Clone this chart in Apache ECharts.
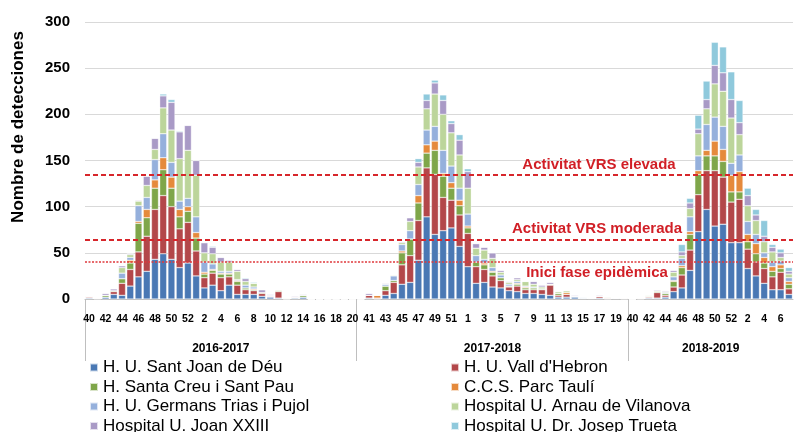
<!DOCTYPE html>
<html lang="ca">
<head>
    <meta charset="UTF-8">
    <title>Deteccions VRS</title>
    <script src="https://cdn.jsdelivr.net/npm/echarts@6/dist/echarts.min.js"></script>
    <style>
        html, body { margin: 0; padding: 0; background: #fff; }
        .box { width: 794px; height: 432px; }
    </style>
</head>
<body>
<div id="show_echarts" class="box"></div>

<script>
    // temporades i setmanes
    var seasons = ['2016-2017', '2017-2018', '2018-2019'];
    var weeks1617 = [40,41,42,43,44,45,46,47,48,49,50,51,52,1,2,3,4,5,6,7,8,9,10,11,12,13,14,15,16,17,18,19,20];
    var weeks1718 = [40,41,42,43,44,45,46,47,48,49,50,51,52,1,2,3,4,5,6,7,8,9,10,11,12,13,14,15,16,17,18,19,20];
    var weeks1819 = [40,41,42,43,44,45,46,47,48,49,50,51,52,1,2,3,4,5,6,7];

    var hospitals = ['H. U. Sant Joan de Déu', "H. U. Vall d'Hebron", 'H. Santa Creu i Sant Pau', 'C.C.S. Parc Taulí',
        'H. U. Germans Trias i Pujol', 'Hospital U. Arnau de Vilanova', 'Hospital U. Joan XXIII', 'Hospital U. Dr. Josep Trueta'];
    var colors = ['#4a78b4', '#b3474a', '#7fa64a', '#e58a3c', '#95b0dc', '#bcd59b', '#a99ac6', '#8fc9dc'];

    // deteccions per setmana (temporada 16-17 | 17-18 | 18-19)
    var santJoan = [1,0,2,5,4,14,24,30,43,49,43,34,39,25,12,15,9,15,5,5,5,3,2,1,0,1,2,0,0,0,0,0,0,
        0,1,0,4,6,16,18,42,89,70,74,77,57,35,17,18,13,12,9,8,6,6,5,4,2,2,2,1,1,1,0,1,0,
        0,0,1,1,2,8,12,31,73,97,79,81,61,61,33,25,17,10,10,5];
    var vallHebron = [1,1,0,3,13,18,27,38,54,63,57,42,44,27,11,13,14,9,10,5,4,3,1,7,0,1,0,0,0,0,0,0,0,
        0,3,1,5,12,21,29,43,53,65,36,30,34,36,18,14,12,8,4,6,4,4,5,11,2,3,1,0,0,2,1,0,1,
        0,1,1,6,2,5,14,22,40,42,60,51,44,47,21,15,16,14,19,6];
    var santPau = [1,0,2,1,5,7,31,20,23,28,20,13,12,14,4,3,4,3,4,2,1,1,0,1,1,0,2,0,0,0,0,0,0,
        0,0,0,5,2,13,18,19,16,26,23,13,10,6,5,5,4,3,1,2,2,2,1,1,2,0,0,0,0,0,0,0,0,
        0,0,1,1,2,6,8,17,22,16,16,17,11,8,8,9,6,6,4,5];
    var parcTauli = [0,0,0,0,0,3,2,9,9,13,12,8,5,6,2,1,1,1,1,0,1,0,0,0,0,0,0,0,0,0,0,0,0,
        0,0,3,0,0,2,0,8,9,10,3,6,6,2,0,2,1,0,0,1,1,0,0,0,0,2,0,0,0,0,0,0,0,
        0,0,0,0,0,1,2,3,4,6,16,13,18,22,8,11,6,5,4,3];
    var triasPujol = [0,0,0,0,6,3,17,13,22,26,16,9,9,17,11,6,2,2,1,3,2,0,1,0,0,0,0,0,0,0,0,0,0,
        0,0,0,2,5,7,9,12,16,16,25,18,13,13,7,4,4,3,2,2,1,1,0,0,0,0,0,1,0,0,0,0,0,
        0,0,0,0,1,4,8,16,16,28,26,25,13,18,14,10,5,5,4,4];
    var arnau = [0,0,0,0,6,3,5,13,11,28,35,46,52,45,10,11,10,10,9,4,4,0,0,1,0,0,0,0,0,0,0,0,0,
        0,0,0,0,1,2,10,19,23,35,39,36,36,28,8,10,10,3,2,2,5,3,2,0,2,2,0,0,0,0,1,0,0,
        0,0,1,1,1,5,3,9,24,17,36,38,49,22,17,15,12,11,4,4];
    var joanXXIII = [0,0,2,2,2,1,1,10,12,13,30,29,27,16,11,7,5,2,2,3,0,3,1,0,0,1,1,0,0,0,0,0,0,
        0,2,0,1,0,1,4,5,9,12,15,10,16,18,5,3,6,2,1,2,0,3,2,2,0,0,1,0,0,1,0,0,0,
        0,0,0,1,1,2,4,6,5,10,20,20,20,13,11,6,6,5,5,3];
    var trueta = [0,0,0,0,0,0,0,0,0,2,3,1,0,0,0,1,0,0,0,1,1,0,0,0,0,0,0,0,0,0,0,0,0,
        0,0,0,0,0,0,0,4,7,3,6,3,6,3,0,0,0,0,0,0,0,0,0,0,0,0,0,0,0,0,0,0,0,
        0,0,0,0,0,0,8,5,15,20,25,28,30,24,8,6,17,3,4,4];

    // llindars
    var llindars = [
        { name: 'Activitat VRS elevada', value: 135 },
        { name: 'Activitat VRS moderada', value: 64 },
        { name: 'Inici fase epidèmica', value: 40 }
    ];

    function show() {
        var myChart = echarts.init(document.getElementById('show_echarts'));
        var font = 'Liberation Sans, Arial, sans-serif';

        var seasonWeeks = [weeks1617, weeks1718, weeks1819];
        var cats = [];
        var starts = [];
        seasonWeeks.forEach(function (wk, s) {
            starts.push(cats.length);
            wk.forEach(function (w) { cats.push(seasons[s] + '|' + w); });
        });
        var total = cats.length;
        var mids = starts.map(function (st, s) { return st + seasonWeeks[s].length / 2; });

        var values = [santJoan, vallHebron, santPau, parcTauli, triasPujol, arnau, joanXXIII, trueta];

        var series = values.map(function (d, k) {
            var s = {
                name: hospitals[k],
                type: 'bar',
                stack: 'total',
                barCategoryGap: '15%',
                itemStyle: { color: colors[k], borderColor: 'rgba(255,255,255,0.7)', borderWidth: 0.5 },
                data: d
            };
            if (k === 0) {
                s.markLine = {
                    silent: true,
                    symbol: 'none',
                    data: [
                        {
                            yAxis: llindars[0].value,
                            lineStyle: { color: '#d7262b', width: 2, type: [5, 3] },
                            label: { formatter: llindars[0].name, position: 'insideEndTop', align: 'center', distance: [194, 2] }
                        },
                        {
                            yAxis: llindars[1].value,
                            lineStyle: { color: '#d7262b', width: 2, type: [5, 3] },
                            label: { formatter: llindars[1].name, position: 'insideEndTop', align: 'center', distance: [196, 4] }
                        },
                        {
                            yAxis: llindars[2].value,
                            lineStyle: { color: '#e0393c', width: 1.5, type: [2, 1.5] },
                            label: { formatter: llindars[2].name, position: 'insideEndBottom', align: 'center', distance: [196, 3] }
                        }
                    ],
                    label: { color: '#d11f26', fontWeight: 'bold', fontSize: 15, fontFamily: font }
                };
            }
            return s;
        });

        var legendBase = {
            orient: 'vertical', top: 359, height: 80, padding: 0,
            itemWidth: 8, itemHeight: 8, itemGap: 2.5, icon: 'rect',
            textStyle: { fontSize: 17, lineHeight: 17, color: '#000', fontFamily: font }
        };

        var option = {
            animation: false,
            textStyle: { fontFamily: font },
            grid: { left: 85, right: 1, top: 22, bottom: 133 },
            legend: [
                Object.assign({}, legendBase, { left: 89, data: [hospitals[0], hospitals[2], hospitals[4], hospitals[6]] }),
                Object.assign({}, legendBase, { left: 450, data: [hospitals[1], hospitals[3], hospitals[5], hospitals[7]] })
            ],
            xAxis: [
                {
                    type: 'category',
                    data: cats,
                    axisLine: { lineStyle: { color: '#bfbfbf' } },
                    axisTick: { show: false },
                    axisLabel: {
                        interval: 1, margin: 15, fontSize: 10.5, fontWeight: 'bold', color: '#000',
                        formatter: function (v) { return v.split('|')[1]; }
                    }
                },
                {
                    type: 'value',
                    position: 'bottom',
                    min: 0, max: total,
                    axisLine: { show: false },
                    splitLine: { show: false },
                    axisTick: { show: true, customValues: starts, length: 62, lineStyle: { color: '#bfbfbf' } },
                    axisLabel: {
                        customValues: mids, margin: 44, fontSize: 12, fontWeight: 'bold', color: '#000',
                        formatter: function (v) { return seasons[mids.indexOf(v)]; }
                    }
                }
            ],
            yAxis: {
                type: 'value',
                min: 0, max: 300, interval: 50,
                axisLine: { show: false },
                axisTick: { show: false },
                splitLine: { lineStyle: { color: '#d9d9d9' } },
                axisLabel: { margin: 15, fontSize: 15, fontWeight: 'bold', color: '#000' }
            },
            graphic: [{
                type: 'text',
                x: 18, y: 127,
                rotation: Math.PI / 2,
                style: {
                    text: 'Nombre de detecciones',
                    fontSize: 17, fontWeight: 'bold', fontFamily: font, fill: '#000',
                    textAlign: 'center', textVerticalAlign: 'middle'
                }
            }],
            series: series
        };
        myChart.setOption(option);
    }
    show();
</script>
</body>
</html>
